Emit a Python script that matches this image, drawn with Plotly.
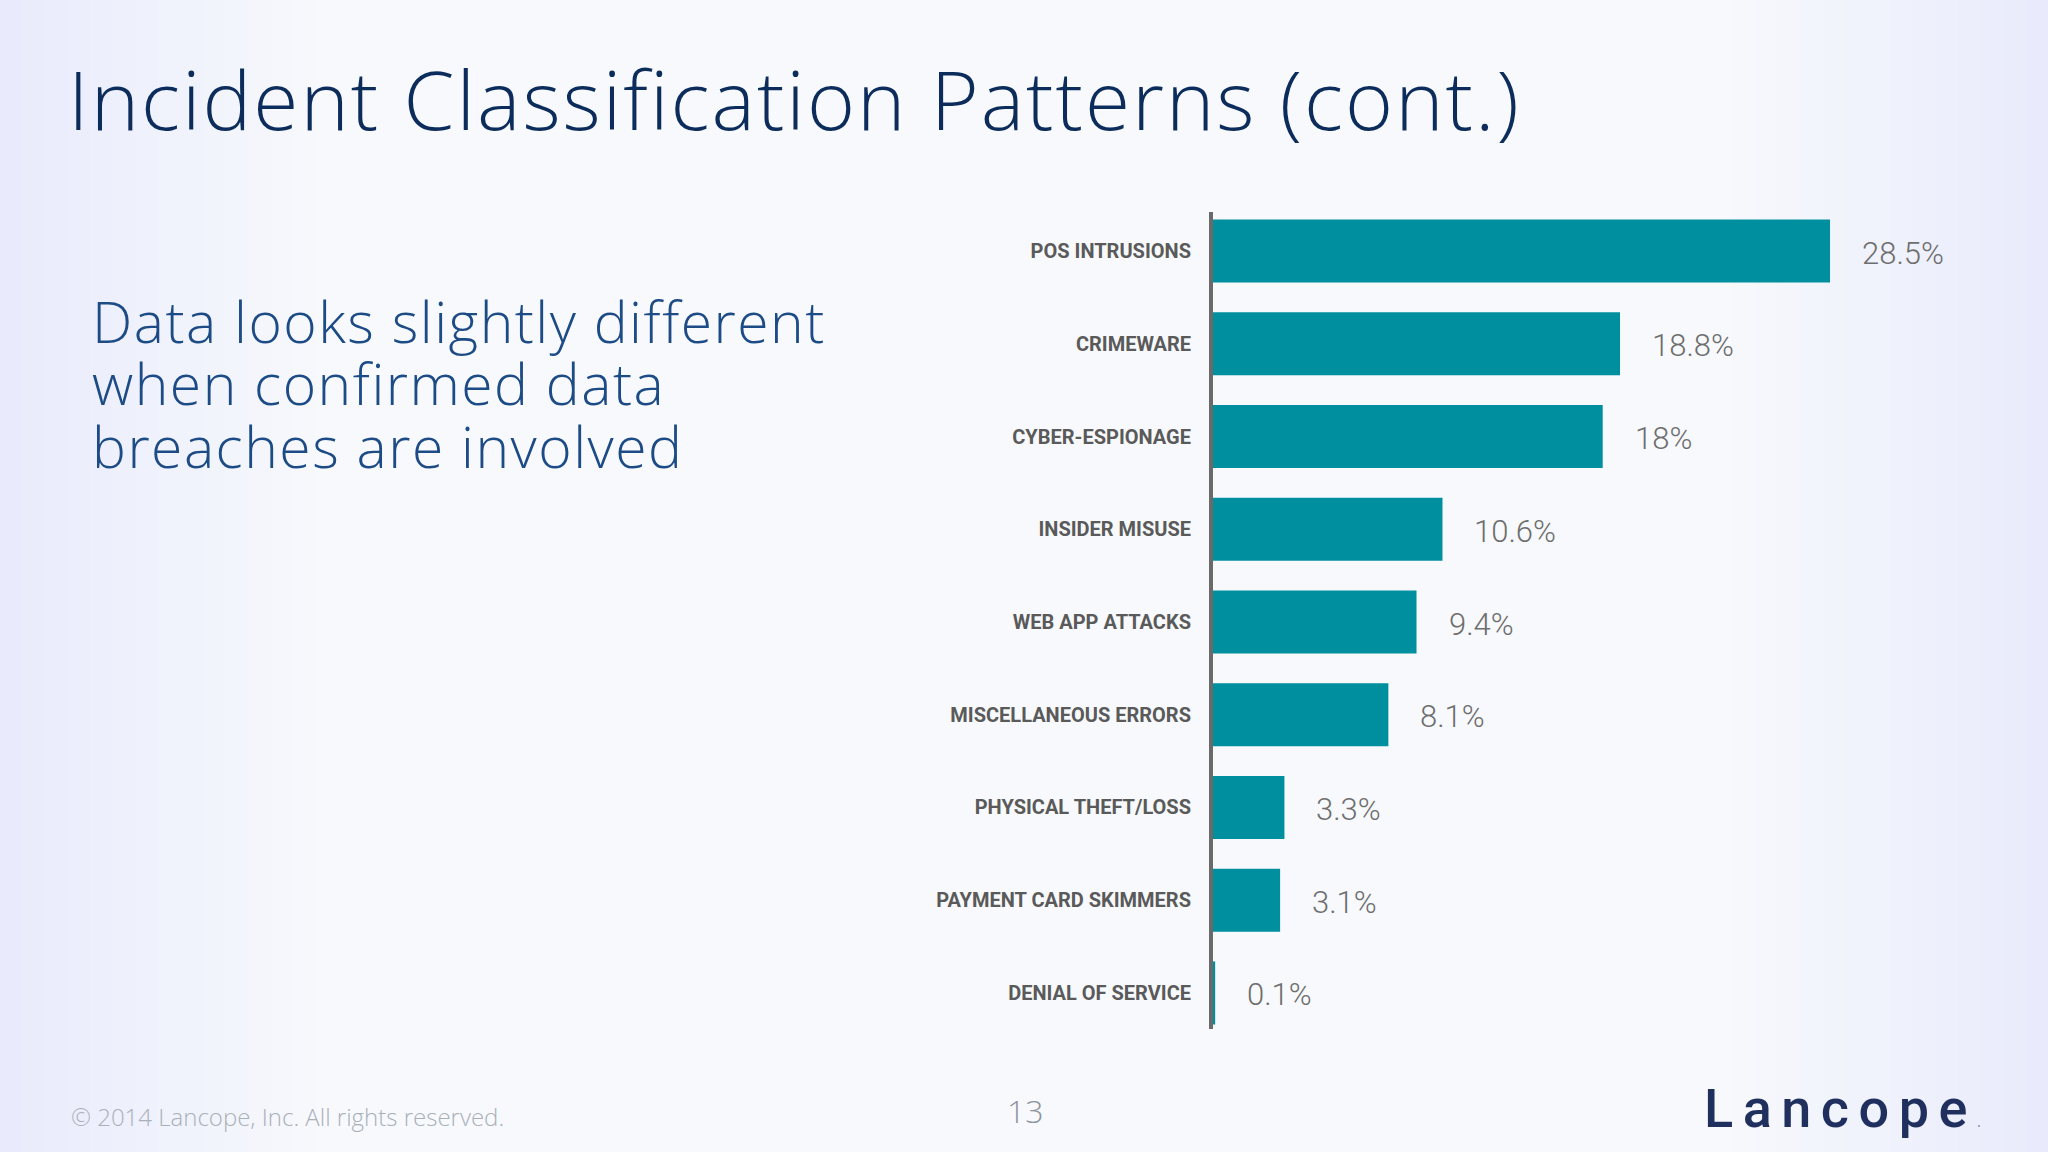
import plotly.graph_objects as go

categories = ["POS INTRUSIONS", "CRIMEWARE", "CYBER-ESPIONAGE", "INSIDER MISUSE",
              "WEB APP ATTACKS", "MISCELLANEOUS ERRORS", "PHYSICAL THEFT/LOSS",
              "PAYMENT CARD SKIMMERS", "DENIAL OF SERVICE"]
values = [28.5, 18.8, 18, 10.6, 9.4, 8.1, 3.3, 3.1, 0.1]
value_labels = ["28.5%", "18.8%", "18%", "10.6%", "9.4%", "8.1%", "3.3%", "3.1%", "0.1%"]

title_text = "Incident Classification Patterns (cont.)"
body_lines = ["Data looks slightly different", "when confirmed data", "breaches are involved"]
footer_text = "© 2014 Lancope, Inc. All rights reserved."
page_number = "13"
logo_text = "Lancope"

W, H = 2048, 1152
BAR_COLOR = "#008f9f"
NAVY = "#0c2c5c"

fig = go.Figure()
fig.add_trace(go.Bar(
    x=values, y=categories, orientation="h",
    marker=dict(color=BAR_COLOR, line=dict(width=0)),
    width=0.68, hoverinfo="x+y", showlegend=False,
))

x0_px, x1_px = 1213, 1990
px_per_unit = 21.65
y_top_px, y_bot_px = 212, 1029

annotations = []
for c, v, t in zip(categories, values, value_labels):
    annotations.append(dict(
        x=v, y=c, xref="x", yref="y", text=t, showarrow=False,
        xanchor="left", yanchor="middle", xshift=30, yshift=-2,
        font=dict(family="Roboto, Lato, sans-serif", size=31, color="#6e6e6e", weight=300),
    ))

# Title
annotations.append(dict(
    x=66 / W, y=1 - 98 / H, xref="paper", yref="paper", text=title_text,
    showarrow=False, xanchor="left", yanchor="middle", align="left",
    font=dict(family="Open Sans, sans-serif", size=82, color=NAVY, weight=300),
))
# Body text: base size sets the line pitch (1.3 em), inner span sets glyph size
annotations.append(dict(
    x=90 / W, y=1 - 383 / H, xref="paper", yref="paper",
    text="<br>".join("<span style='font-size:57px'>" + l + "</span>" for l in body_lines),
    align="left", showarrow=False, xanchor="left", yanchor="middle",
    font=dict(family="Open Sans, sans-serif", size=48, color="#1c4b85", weight=300),
))
# Footer
annotations.append(dict(
    x=69 / W, y=1 - 1116 / H, xref="paper", yref="paper", text=footer_text,
    showarrow=False, xanchor="left", yanchor="middle", align="left",
    font=dict(family="Open Sans, sans-serif", size=24, color="#aab0ba", weight=300),
))
annotations.append(dict(
    x=1025 / W, y=1 - 1110 / H, xref="paper", yref="paper", text=page_number,
    showarrow=False, xanchor="center", yanchor="middle",
    font=dict(family="Open Sans, sans-serif", size=32, color="#8d939c", weight=300),
))
annotations.append(dict(
    x=1702 / W, y=1 - 1108 / H, xref="paper", yref="paper",
    text=logo_text + "<span style='color:#8a9ab8;font-size:14px'>.</span>",
    showarrow=False, xanchor="left", yanchor="middle", align="left",
    font=dict(family="Roboto, sans-serif", size=54, color="#1f2f5e", weight=500),
))

y_range_top = -(251 - y_top_px) / 92.7
y_range_bot = 8 + (y_bot_px - 993) / 92.7

fig.update_layout(
    width=W, height=H,
    margin=dict(l=0, r=0, t=0, b=0),
    paper_bgcolor="#f7f9fc", plot_bgcolor="rgba(0,0,0,0)",
    xaxis=dict(domain=[x0_px / W, x1_px / W], range=[0, (x1_px - x0_px) / px_per_unit],
               visible=False, fixedrange=True),
    yaxis=dict(domain=[1 - y_bot_px / H, 1 - y_top_px / H],
               categoryorder="array", categoryarray=categories,
               range=[y_range_bot, y_range_top], fixedrange=True,
               showline=True, linecolor="#6a6a6a", linewidth=4,
               showgrid=False, zeroline=False, ticks="", ticklabelstandoff=14,
               tickfont=dict(family="Roboto, sans-serif",
                             size=20, color="#5a5a5a", weight=700)),
    annotations=annotations,
    bargap=0.32,
)

# soft vignette on left and right edges like the slide background
shapes = []
n = 14
for i in range(n):
    w = (i + 1) * 0.011
    shapes.append(dict(type="rect", xref="paper", yref="paper",
                       x0=0, x1=w, y0=0, y1=1,
                       fillcolor="#aebde6", opacity=0.012, line=dict(width=0), layer="below"))
    shapes.append(dict(type="rect", xref="paper", yref="paper",
                       x0=1 - w, x1=1, y0=0, y1=1,
                       fillcolor="#aebde6", opacity=0.012, line=dict(width=0), layer="below"))
fig.update_layout(shapes=shapes)

post_js = """
document.body.style.margin='0';
document.querySelectorAll('text.annotation-text').forEach(function(t){
  var s = t.textContent;
  if (s.indexOf('Incident') === 0) { t.style.letterSpacing = '2px'; }
  else if (s.indexOf('Data looks') === 0) { t.style.letterSpacing = '1.5px'; }
  else if (s.indexOf('Lancope.') === 0) { t.style.letterSpacing = '9.5px'; }
});
"""

fig.write_html("out.html", config={"displayModeBar": False}, post_script=post_js)
